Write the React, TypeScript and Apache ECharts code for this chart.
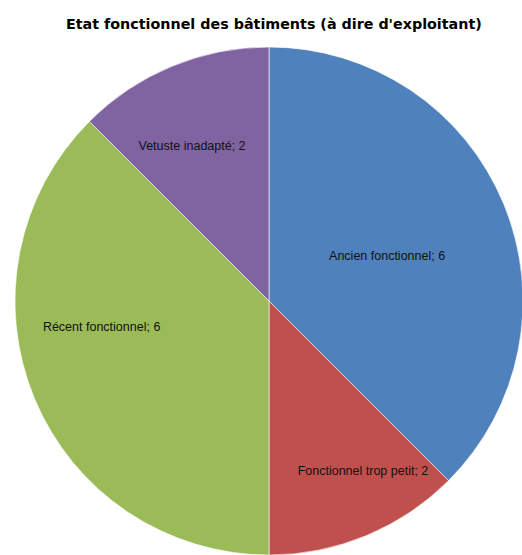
import React, { useEffect, useRef } from "react";
import * as echarts from "echarts";

const titleText = "Etat fonctionnel des bâtiments (à dire d'exploitant)";
const categories = ["Ancien fonctionnel", "Fonctionnel trop petit", "Récent fonctionnel", "Vetuste inadapté"];
const values = [6, 2, 6, 2];
const colors = ["#4F81BD", "#C0504D", "#9BBB59", "#8064A2"];
// label placement as fractions of the radius, relative to pie center
const labelOffsets: [number, number][] = [
  [0.465, -0.177],
  [0.37, 0.67],
  [-0.659, 0.102],
  [-0.303, -0.61],
];

const CX = 269;
const CY = 301;
const R = 254;

export default function App() {
  const ref = useRef<HTMLDivElement>(null);
  useEffect(() => {
    document.body.style.margin = "0";
    const chart = echarts.init(ref.current!, null, { renderer: "svg" });
    chart.setOption({
      animation: false,
      backgroundColor: "#ffffff",
      title: {
        text: titleText,
        left: 61,
        top: 12,
        textStyle: {
          fontFamily: "DejaVu Sans",
          fontWeight: "bold",
          fontSize: 14.3,
          color: "#000000",
        },
      },
      series: [
        {
          type: "pie",
          center: [CX, CY],
          radius: R,
          startAngle: 90,
          clockwise: true,
          itemStyle: { borderColor: "rgba(255,255,255,0.6)", borderWidth: 1 },
          label: {
            show: true,
            position: "inside",
            formatter: (p: any) => `${p.name}; ${p.value}`,
            fontFamily: "Liberation Sans",
            fontSize: 12.5,
            color: "#111111",
          },
          labelLine: { show: false },
          emphasis: { disabled: true },
          labelLayout: (p: any) => {
            const o = labelOffsets[p.dataIndex];
            return { x: CX + o[0] * R, y: CY + o[1] * R };
          },
          data: categories.map((c, i) => ({
            name: c,
            value: values[i],
            itemStyle: { color: colors[i] },
          })),
        },
      ],
    });
    return () => chart.dispose();
  }, []);
  return <div ref={ref} style={{ width: 522, height: 555 }} />;
}
